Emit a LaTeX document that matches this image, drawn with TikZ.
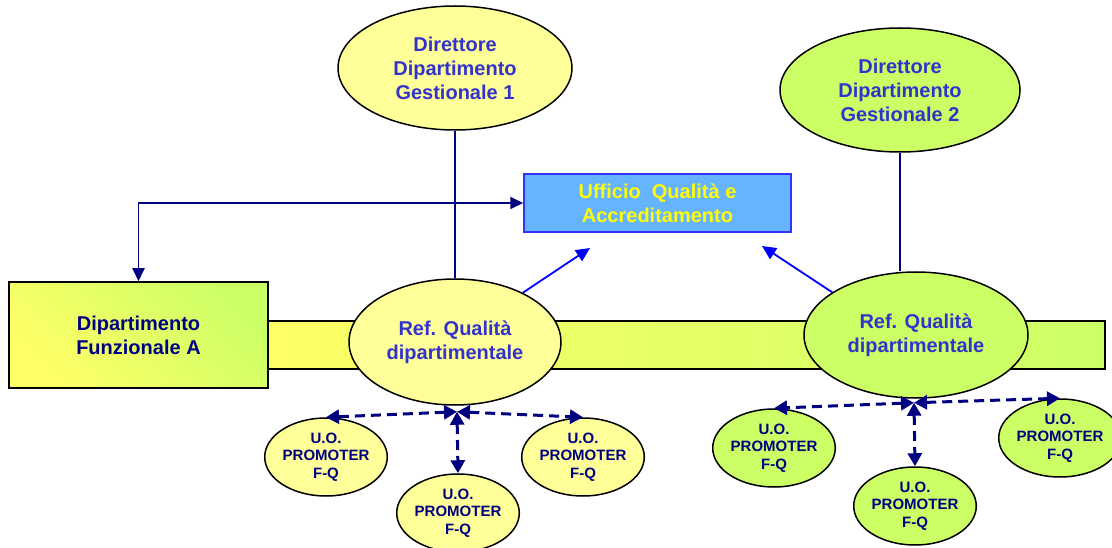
\documentclass[tikz,border=0pt]{standalone}
\usepackage{fontspec}
\setmainfont{Liberation Sans}
\usetikzlibrary{shapes.geometric,arrows.meta,calc}
\definecolor{dirblue}{HTML}{3333CC}
\definecolor{navy}{HTML}{000080}
\definecolor{lyellow}{HTML}{FFFF99}
\definecolor{lgreen}{HTML}{CCFF66}
\definecolor{byellow}{HTML}{FFFF66}
\definecolor{uffblue}{HTML}{66B3FF}
\definecolor{uffborder}{HTML}{3333FF}
\definecolor{arrowblue}{HTML}{0000FF}
\definecolor{txtyellow}{HTML}{FFFF00}
\begin{document}
\begin{tikzpicture}[x=1pt,y=-1pt,
  bigtext/.style={font=\fontsize{20}{24}\selectfont\bfseries, align=center},
  bigell/.style={ellipse, draw=black, line width=1.5pt, inner sep=0pt, bigtext, text=dirblue},
  uoell/.style={ellipse, draw=black, line width=1.5pt, inner sep=0pt, minimum width=118pt, minimum height=78pt, font=\fontsize{15}{17.5}\selectfont\bfseries, align=center, text=navy},
  navyline/.style={draw=navy, line width=1.8pt},
  blueline/.style={draw=arrowblue, line width=1.8pt, -{Triangle[length=14pt,width=13pt]}},
  dasharrow/.style={draw=navy, line width=3pt, dash pattern=on 10pt off 6pt, {Triangle[length=13pt,width=14pt]}-{Triangle[length=13pt,width=14pt]}},
]
\useasboundingbox (0,0) rectangle (1112,548);

% horizontal band and department box
\node[draw=black, line width=1.5pt, rectangle, inner sep=0pt, minimum width=837pt, minimum height=48pt, left color=byellow, right color=lgreen] (bar) at (686.5,345) {};
\node[draw=black, line width=1.5pt, rectangle, inner sep=0pt, minimum width=259pt, minimum height=106pt, bottom color=byellow, top color=lgreen, shading angle=-45, bigtext, text=navy] (dip) at (138.5,335) {Dipartimento\\Funzionale A};

% quality office
\node[draw=uffborder, line width=1.5pt, rectangle, inner sep=0pt, minimum width=267pt, minimum height=58pt, fill=uffblue, bigtext, text=txtyellow] (uff) at (657.5,203) {Ufficio\ \ Qualità e\\Accreditamento};

% directors
\node[bigell, fill=lyellow, minimum width=234pt, minimum height=124pt] (dir1) at (455,68) {Direttore\\Dipartimento\\Gestionale 1};
\node[bigell, fill=lgreen, minimum width=240pt, minimum height=124pt] (dir2) at (900,90) {Direttore\\Dipartimento\\Gestionale 2};

% quality referents
\node[bigell, fill=lyellow, minimum width=212pt, minimum height=126pt] (ref1) at (455,342) {Ref. Qualità\\dipartimentale};
\node[bigell, fill=lgreen, minimum width=224pt, minimum height=126pt] (ref2) at (916,335) {Ref. Qualità\\dipartimentale};

% U.O. promoters
\node[uoell, fill=lyellow] (uo1) at (326,457) {U.O.\\PROMOTER\\F-Q};
\node[uoell, fill=lyellow] (uo2) at (458,513) {U.O.\\PROMOTER\\F-Q};
\node[uoell, fill=lyellow] (uo3) at (583,457) {U.O.\\PROMOTER\\F-Q};
\node[uoell, fill=lgreen] (uo4) at (774,448) {U.O.\\PROMOTER\\F-Q};
\node[uoell, fill=lgreen] (uo5) at (915,506) {U.O.\\PROMOTER\\F-Q};
\node[uoell, fill=lgreen] (uo6) at (1060,438) {U.O.\\PROMOTER\\F-Q};

% vertical links director -> referent
\draw[navyline] (dir1.south) -- (ref1.north);
\draw[navyline] (dir2.south) -- (dir2.south |- ref2.north);

% link department <-> office
\draw[navyline, {Triangle[length=13pt,width=12pt]}-{Triangle[length=13pt,width=12pt]}] (dip.north) |- (uff.west);

% blue arrows referent -> office
\coordinate (a1) at (590,248);
\coordinate (a2) at (762,246);
\draw[blueline] (ref1.36) -- (a1);
\draw[blueline] (ref2.153) -- (a2);

% dashed arrows
\coordinate (hub1) at ($(ref1.south)+(2,6)$);
\coordinate (hub2) at ($(ref2.south)+(-2,4)$);
\draw[dasharrow] (hub1) -- (uo1.north);
\draw[dasharrow] (hub1) -- (uo2.north);
\draw[dasharrow] (hub1) -- (uo3.north);
\draw[dasharrow] (hub2) -- (uo4.north);
\draw[dasharrow] (hub2) -- (uo5.north);
\draw[dasharrow] (hub2) -- (uo6.north);
\end{tikzpicture}
\end{document}
